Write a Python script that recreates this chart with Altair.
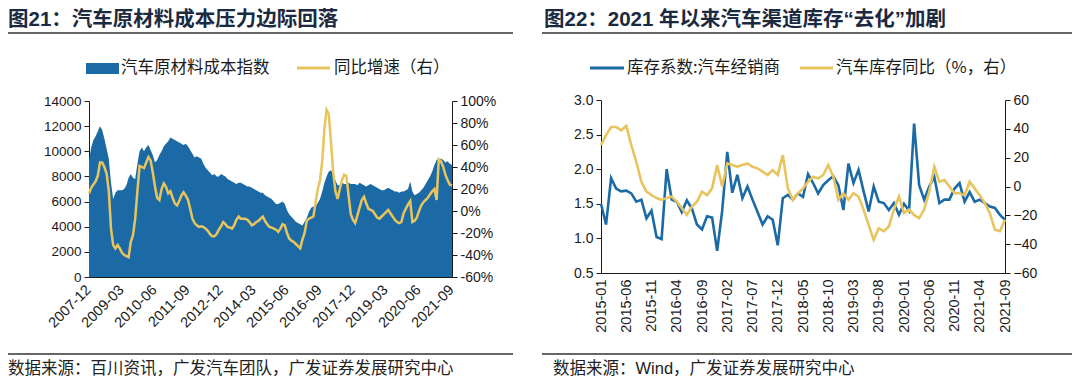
import altair as alt
import pandas as pd

# ---------------- data ----------------
LEFT_MONTHS = pd.period_range("2007-12", "2021-09", freq="M").strftime("%Y-%m").tolist()
RIGHT_MONTHS = pd.period_range("2015-01", "2021-09", freq="M").strftime("%Y-%m").tolist()

LEFT_TICKS = ["2007-12", "2009-03", "2010-06", "2011-09", "2012-12", "2014-03",
              "2015-06", "2016-09", "2017-12", "2019-03", "2020-06", "2021-09"]
RIGHT_TICKS = ["2015-01", "2015-06", "2015-11", "2016-04", "2016-09", "2017-02",
               "2017-07", "2017-12", "2018-05", "2018-10", "2019-03", "2019-08",
               "2020-01", "2020-06", "2020-11", "2021-04", "2021-09"]

# 汽车原材料成本指数 (left axis)
COST_INDEX = [
    9300, 10300, 10900, 11200, 11600, 12000, 11700, 11000, 10200, 9400,
    7500, 6200, 6700, 6900, 6900, 6900, 7000, 7300, 7900, 8200,
    7900, 7800, 9000, 10000, 10300, 10000, 10300, 10500, 10100, 9700,
    9100, 9300, 9700, 10000, 10400, 10600, 10800, 11100, 11000, 10900,
    10800, 10700, 10600, 10500, 10600, 10400, 10100, 9800, 9500, 9600,
    9500, 9400, 9000, 8700, 8500, 8300, 8100, 8200, 8000, 8000,
    8200, 8100, 8000, 7800, 7700, 7600, 7500, 7400, 7500, 7500,
    7400, 7300, 7200, 7200, 7100, 7000, 6900, 6800, 6700, 6700,
    6500, 6400, 6300, 6200, 6000, 5800, 5800, 5900, 6000, 5800,
    5300, 5000, 4800, 4600, 4400, 4300, 4200, 4100, 4400, 4700,
    5200, 5500, 5600, 5600, 5900, 6200, 6800, 7500, 8000, 8400,
    8500, 8200, 7700, 7300, 7300, 7500, 7400, 7400, 7500, 7400,
    7400, 7400, 7300, 7500, 7400, 7300, 7200, 7300, 7400, 7300,
    7200, 7100, 7000, 6900, 6900, 7000, 7100, 7000, 6900, 6800,
    6800, 6700, 6800, 6800, 6900, 7000, 7600, 6800, 6500, 6600,
    6700, 6900, 7100, 7400, 7700, 8000, 8400, 8900, 9300, 9400,
    9400, 9300, 9100, 9200, 9000, 8900,
]
# 同比增速（右）, %
COST_YOY = [
    16, 21, 24, 27, 32, 44, 44, 40, 34, 18,
    -16, -31, -34, -31, -34, -38, -40, -41, -42, -28,
    -22, -7, 18, 41, 40, 39, 44, 49, 46, 35,
    22, 12, 10, 20, 25, 22, 16, 18, 12, 7,
    5, 9, 14, 17, 14, 10, 2, -7, -11, -13,
    -14.5, -14, -14.5, -16, -18, -21, -23, -23, -21, -17,
    -14, -10, -12, -14.5, -15, -16, -13, -8, -5, -7,
    -7, -7, -8, -10, -13, -12, -10, -9, -7, -5,
    -9, -12, -14.5, -15, -16, -17, -19, -16, -12, -13,
    -20, -25, -27, -28, -30, -32, -34, -26, -20, -9,
    -7, -6, -5, 8, 20, 28, 45, 75, 92, 88,
    62, 35, 18, 11, 20, 28, 33, 32, 14, -3,
    -8, -11, -4, 3, 10, 13, 7, 2, 1, 0,
    -3, -6, -7, -5, -3, -1, 1, -2, -5, -8,
    -10, -11, -10, -2, 2, 6, 9, -10, -9, -6,
    0, 5, 8, 10, 12, 15, 18, 20, 10, 47,
    45, 40, 33, 28, 24, 23,
]
# 库存系数:汽车经销商 (left axis)
INV_COEF = [
    1.5, 1.2, 1.87, 1.72, 1.68, 1.69, 1.65, 1.53, 1.56, 1.29,
    1.4, 1.02, 0.99, 2.0, 1.56, 1.53, 1.38, 1.55, 1.43, 1.2,
    1.13, 1.32, 1.3, 0.82, 1.4, 2.25, 1.66, 1.92, 1.58, 1.75,
    1.56, 1.38, 1.2, 1.32, 1.27, 0.9, 1.58, 1.63, 1.56, 1.65,
    1.6, 1.93, 1.8, 1.65, 1.77, 1.84, 1.9, 1.77, 1.41, 2.08,
    1.8, 1.99, 1.68, 1.39, 1.75, 1.53, 1.51, 1.41, 1.51, 1.34,
    1.5, 1.4, 2.66, 1.77, 1.56, 1.75, 1.89, 1.51, 1.56, 1.56,
    1.72, 1.8, 1.53, 1.67, 1.53, 1.56, 1.51, 1.46, 1.44, 1.34,
    1.27,
]
# 汽车库存同比（%，右）
INV_YOY = [
    28.7, 35.6, 41.3, 41.3, 39, 42, 28.7, 17, 3.3, -3.6,
    -6, -8, -9.3, -8, -7, -10.5, -15, -19.7, -14, -10.5,
    -3.6, -6, -1.3, 14.9, 0, 16, 15, 13.7, 15, 16,
    13.7, 12.6, 10.3, 8, 11.4, 8, 21.8, -1.3, -9.3, -4.7,
    -1.3, 3.3, 6.8, 5.6, 8, 14.9, 6.8, -9.3, -4.7, -9.3,
    -4.7, -7, -16, -26.6, -37, -29, -31, -27.7, -16, -7,
    -18.5, -16, -19.7, -22, -16, -3.6, 13.7, 3.3, 4.5, 0,
    -4.7, -4.7, -6, 3.3, -1.3, -6, -11.6, -18.5, -30, -31,
    -23,
]

left_df = pd.DataFrame({"month": LEFT_MONTHS, "index": COST_INDEX, "yoy": COST_YOY})
right_df = pd.DataFrame({"month": RIGHT_MONTHS, "coef": INV_COEF, "yoy": INV_YOY})
left_ticks_df = pd.DataFrame({"month": LEFT_TICKS})

# ---------------- style ----------------
BLUE = "#1B6AA5"
YELLOW = "#E8C45E"
AX = "#1a1a1a"
CJK = "Noto Sans CJK SC"
LAT = "Liberation Sans, Noto Sans CJK SC"
TITLE_C = "#1B2A41"

W, H = 916, 177
L_X = [0, 363]
R_X = [512, 916]
L_Y = [177, 1]
R_Y = [173, 0]

def yaxis(orient, offset, values, size=14, fmt=None, expr=None):
    kw = dict(orient=orient, offset=offset, values=values, title=None, grid=False,
              ticks=True, tickSize=5, labelPadding=3, labelFontSize=size,
              domainColor=AX, tickColor=AX, labelColor=AX)
    if fmt:
        kw["format"] = fmt
    if expr:
        kw["labelExpr"] = expr
    return alt.Axis(**kw)

def left_scale():
    return alt.Scale(type="point", domain=LEFT_MONTHS, range=L_X, padding=0)

# left panel
left_x = alt.X("month:O", sort=None, scale=left_scale(),
               axis=alt.Axis(orient="bottom", values=LEFT_TICKS, labels=False,
                             ticks=False, title=None, domainColor=AX))
left_x_noaxis = alt.X("month:O", sort=None, scale=left_scale(), axis=None)

area = alt.Chart(left_df).mark_area(color=BLUE, opacity=1).encode(
    x=left_x,
    y=alt.Y("index:Q", stack=None,
            scale=alt.Scale(domain=[0, 14000], range=L_Y, nice=False, zero=False),
            axis=yaxis("left", 0, list(range(0, 14001, 2000)), size=13.5, fmt="d")),
)
left_line = alt.Chart(left_df).mark_line(color=YELLOW, strokeWidth=2.5).encode(
    x=left_x_noaxis,
    y=alt.Y("yoy:Q",
            scale=alt.Scale(domain=[-60, 100], range=L_Y, nice=False, zero=False),
            axis=yaxis("right", -(W - L_X[1]), list(range(-60, 101, 20)),
                       expr="datum.value + '%'")),
)
# rotated month labels of the left panel, placed through the same point scale
left_labels = alt.Chart(left_ticks_df).mark_text(
    angle=315, align="right", baseline="middle", fontSize=14.5,
    font="Liberation Sans", color=AX,
).encode(
    x=left_x_noaxis,
    y=alt.value(L_Y[0] + 11),
    text="month:N",
)

# right panel
right_x = alt.X("month:O", sort=None,
                scale=alt.Scale(type="point", range=R_X, padding=0),
                axis=alt.Axis(orient="bottom", offset=-(H - R_Y[0]), values=RIGHT_TICKS,
                              labelAngle=270, labelAlign="right", labelBaseline="middle",
                              ticks=False, labelPadding=6, labelFontSize=14.5,
                              labelOverlap=False, labelFlush=False,
                              title=None, domainColor=AX, labelColor=AX))
right_x_noaxis = alt.X("month:O", sort=None,
                       scale=alt.Scale(type="point", range=R_X, padding=0), axis=None)

blue_line = alt.Chart(right_df).mark_line(color=BLUE, strokeWidth=2.6).encode(
    x=right_x,
    y=alt.Y("coef:Q",
            scale=alt.Scale(domain=[0.5, 3.0], range=R_Y, nice=False, zero=False),
            axis=yaxis("left", -R_X[0], [0.5, 1.0, 1.5, 2.0, 2.5, 3.0], fmt=".1f")),
)
yellow_line = alt.Chart(right_df).mark_line(color=YELLOW, strokeWidth=2.6).encode(
    x=right_x_noaxis,
    y=alt.Y("yoy:Q",
            scale=alt.Scale(domain=[-60, 60], range=R_Y, nice=False, zero=False),
            axis=yaxis("right", 0, list(range(-60, 61, 20)), fmt="d")),
)

# ---------------- decorations ----------------
ONE = alt.Data(values=[{"k": 1}])

def txt(s, x, y, size, weight="normal", color=AX, font=CJK):
    return alt.Chart(ONE).mark_text(text=s, align="left", baseline="middle",
                                    fontSize=size, fontWeight=weight, color=color,
                                    font=font).encode(x=alt.value(x), y=alt.value(y))

def hline(x1, x2, y, color=AX, width=1.5):
    return alt.Chart(ONE).mark_rule(color=color, strokeWidth=width).encode(
        x=alt.value(x1), x2=alt.value(x2), y=alt.value(y))

deco = [
    txt("图21：汽车原材料成本压力边际回落", -81, -80, 20.5, "bold", TITLE_C, LAT),
    txt("图22：2021 年以来汽车渠道库存“去化”加剧", 455, -80, 20.5, "bold", TITLE_C, LAT),
    hline(-81, 424, -67, "#333333", 1.5),
    hline(453, 983, -67, "#333333", 1.5),
    hline(-81, 424, 254, "#333333", 1.5),
    hline(453, 983, 254, "#333333", 1.5),
    txt("数据来源：百川资讯，广发汽车团队，广发证券发展研究中心", -81, 269, 16.5, color="#222222"),
    txt("数据来源：Wind，广发证券发展研究中心", 464, 269, 16.5, color="#222222", font=LAT),
    # left legend
    alt.Chart(ONE).mark_rect(color=BLUE).encode(
        x=alt.value(-3), x2=alt.value(30), y=alt.value(-37), y2=alt.value(-26)),
    txt("汽车原材料成本指数", 32, -32, 16.5),
    hline(208, 241, -32, YELLOW, 3),
    txt("同比增速（右）", 245, -32, 16.5),
    # right legend
    hline(501, 535, -32, BLUE, 3),
    txt("库存系数:汽车经销商", 538, -32, 16.5),
    hline(711, 744, -32, YELLOW, 3),
    txt("汽车库存同比（%，右）", 747, -32, 16.5),
]

chart = alt.layer(area, left_line, left_labels, blue_line, yellow_line, *deco).resolve_scale(
    x="independent", y="independent"
).properties(
    width=W, height=H,
    padding={"left": 81, "top": 92, "right": 67, "bottom": 101},
    autosize=alt.AutoSizeParams(type="none"),
).configure_view(stroke=None).configure_axis(
    grid=False, labelFont="Liberation Sans", domainWidth=1, tickWidth=1
)

chart.save("out.html", embed_options={"renderer": "svg", "actions": False})
